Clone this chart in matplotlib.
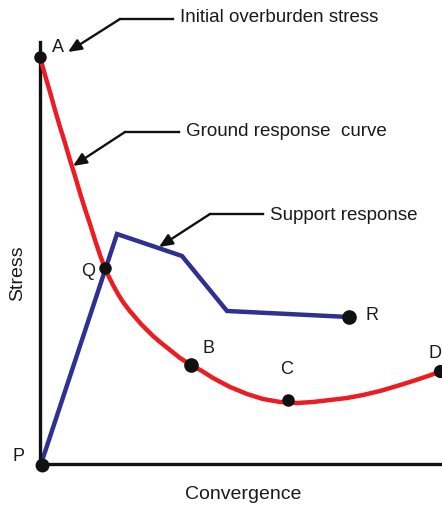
"""
Ground response curve vs support response (convergence-confinement sketch).
"""
import matplotlib
matplotlib.use('Agg')
import matplotlib.pyplot as plt

plt.rcParams['font.family'] = ['Liberation Sans', 'DejaVu Sans']

# Ground response curve (convergence, stress)
ground_x = [0, 5, 10, 15, 20, 25, 30, 35, 40, 45, 50, 55, 60, 63, 68, 73, 78, 83, 89, 95,
            101, 107, 113, 120, 130, 140, 151, 162, 173, 190, 207, 223, 240, 257, 273, 290,
            307, 323, 340, 357, 373, 388, 402]
ground_y = [407, 389, 372, 354, 337, 321, 304, 288, 271, 255, 240, 224, 209, 201, 189, 179,
            170, 162, 154, 147, 140, 134, 128, 122, 114, 106, 99, 93, 86, 77, 70, 65, 62, 61,
            62, 64, 66, 69, 73, 78, 83, 88, 93]

# Support response line P -> R
support_x = [1, 77, 142, 187, 309]
support_y = [0, 230, 208, 153, 147]

# Named points
point_names = ['A', 'P', 'Q', 'B', 'C', 'D', 'R']
point_x = [0, 2, 65, 151, 248, 400, 309]
point_y = [407, -1, 196, 99, 64, 93, 147]
point_size = [8, 9, 8, 9.5, 8, 8.5, 9.5]
label_x = [18, -21, 48, 168, 247, 389, 332]
label_y = [418, 8, 194, 116, 95, 111, 149]

# Annotation arrows: text, text position, elbow, tip
notes = ['Initial overburden stress', 'Ground response  curve', 'Support response']
note_x = [140, 146, 230]
note_y = [448, 334, 249]
elbow_x = [80, 85, 170]
elbow_y = [445, 332, 250]
tip_x = [28, 33, 119]
tip_y = [412, 298, 217]

fig = plt.figure(figsize=(4.42, 5.06), dpi=100)
ax = fig.add_axes([40 / 442, 41 / 506, 402 / 442, 422 / 506])
ax.set_xlim(0, 402)
ax.set_ylim(0, 422)

ax.plot(ground_x, ground_y, color='#ED1C24', lw=3.2, solid_capstyle='round', zorder=3, clip_on=False)
ax.plot(support_x, support_y, color='#2E3192', lw=3.2, solid_joinstyle='miter', zorder=2, clip_on=False)

for name, x, y, s, lx, ly in zip(point_names, point_x, point_y, point_size, label_x, label_y):
    ax.plot(x, y, 'o', color='#111111', ms=s, zorder=5, clip_on=False)
    ax.text(lx, ly, name, fontsize=13, ha='center' if name != 'D' else 'left',
            va='center', color='#1a1a1a')

for text, tx, ty, ex, ey, px, py in zip(notes, note_x, note_y, elbow_x, elbow_y, tip_x, tip_y):
    ax.plot([ex, tx - 7], [ey, ey], color='#111111', lw=1.7, clip_on=False)
    ax.annotate('', xy=(px, py), xytext=(ex, ey), annotation_clip=False,
                arrowprops=dict(arrowstyle='-|>,head_length=0.8,head_width=0.35',
                                color='#111111', lw=1.7, shrinkA=0, shrinkB=0))
    ax.text(tx, ty, text, fontsize=13.5, ha='left', va='center', color='#1a1a1a')

ax.text(-22, 192, 'Stress', fontsize=14, rotation=90, ha='center', va='center', color='#1a1a1a')
ax.text(203, -30, 'Convergence', fontsize=14, ha='center', va='center', color='#1a1a1a')

for side in ['top', 'right']:
    ax.spines[side].set_visible(False)
for side in ['left', 'bottom']:
    ax.spines[side].set_linewidth(2.4)
    ax.spines[side].set_color('#111111')
ax.set_xticks([])
ax.set_yticks([])

fig.savefig('out.png', dpi=100)
